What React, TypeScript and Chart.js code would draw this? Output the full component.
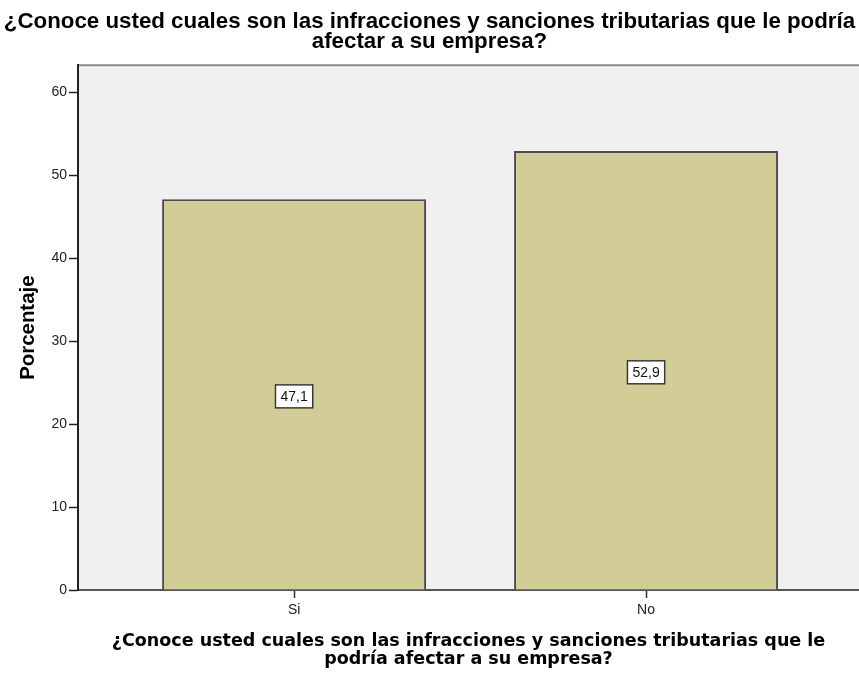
import React, { useEffect, useRef } from "react";
import { Chart, registerables } from "chart.js";

Chart.register(...registerables);

const titleLines = [
  "¿Conoce usted cuales son las infracciones y sanciones tributarias que le podría",
  "afectar a su empresa?",
];
const xTitleLines = [
  "¿Conoce usted cuales son las infracciones y sanciones tributarias que le",
  "podría afectar a su empresa?",
];
const yTitle = "Porcentaje";
const categories = ["Si", "No"];
const percentages = [47.1, 52.9];
const yTicks = [0, 10, 20, 30, 40, 50, 60];

const bgPlugin = {
  id: "plotBg",
  beforeDraw(chart: any) {
    const { ctx, chartArea } = chart;
    ctx.save();
    ctx.fillStyle = "#F0F0F0";
    ctx.fillRect(chartArea.left, chartArea.top, chartArea.right - chartArea.left, chartArea.bottom - chartArea.top);
    ctx.strokeStyle = "#8a8a8a";
    ctx.lineWidth = 2;
    ctx.beginPath();
    ctx.moveTo(chartArea.left, chartArea.top);
    ctx.lineTo(chartArea.right, chartArea.top);
    ctx.stroke();
    ctx.restore();
  },
};

const labelPlugin = {
  id: "valueLabels",
  afterDatasetsDraw(chart: any) {
    const { ctx } = chart;
    const meta = chart.getDatasetMeta(0);
    ctx.save();
    ctx.font = "14px 'Liberation Sans', Arial, sans-serif";
    ctx.textAlign = "center";
    ctx.textBaseline = "middle";
    meta.data.forEach((bar: any, i: number) => {
      const v = percentages[i];
      const txt = v.toFixed(1).replace(".", ",");
      const cx = bar.x;
      const cy = (bar.y + bar.base) / 2 + 2;
      const w = ctx.measureText(txt).width + 10;
      const h = 23;
      ctx.fillStyle = "#ffffff";
      ctx.fillRect(cx - w / 2, cy - h / 2, w, h);
      ctx.strokeStyle = "#3a3a3a";
      ctx.lineWidth = 1.5;
      ctx.strokeRect(cx - w / 2, cy - h / 2, w, h);
      ctx.fillStyle = "#111";
      ctx.fillText(txt, cx, cy + 1);
    });
    ctx.restore();
  },
};

export default function App() {
  const ref = useRef<HTMLCanvasElement | null>(null);
  useEffect(() => {
    if (!ref.current) return;
    const chart = new Chart(ref.current, {
      type: "bar",
      data: {
        datasets: [
          {
            data: categories.map((c, i) => ({ x: i + 1, y: percentages[i] })),
            backgroundColor: "#D2CD96",
            borderColor: "#4a4a4a",
            borderWidth: 2,
            categoryPercentage: 1,
            barPercentage: 0.75,
          },
        ],
      },
      options: {
        responsive: false,
        animation: false,
        layout: { padding: 0 },
        plugins: {
          legend: { display: false },
          tooltip: { enabled: false },
          title: {
            display: true,
            text: titleLines,
            color: "#000",
            font: { family: "'Liberation Sans', Arial, sans-serif", size: 22.3, weight: "bold", lineHeight: 0.88 },
            padding: { top: 12, bottom: 14 },
          },
        },
        scales: {
          x: {
            type: "linear",
            offset: false,
            min: 0.386,
            max: 2.605,
            afterBuildTicks: (scale: any) => {
              scale.ticks = categories.map((c, i) => ({ value: i + 1 }));
            },
            afterFit: (scale: any) => {
              scale.height = 83;
            },
            ticks: {
              callback: (v: any) => categories[Number(v) - 1] ?? "",
              color: "#222",
              font: { family: "'Liberation Sans', Arial, sans-serif", size: 14 },
              padding: 4,
              maxRotation: 0,
            },
            grid: { offset: false, drawOnChartArea: false, tickLength: 8, tickColor: "#333", tickWidth: 1.5 },
            border: { display: true, color: "#555", width: 2 },
            title: {
              display: true,
              text: xTitleLines,
              color: "#000",
              font: { family: "'DejaVu Sans', sans-serif", size: 17.5, weight: "bold", lineHeight: 1.0 },
              padding: { top: 0, bottom: 5 },
            },
          },
          y: {
            min: 0,
            max: 63.25,
            afterBuildTicks: (scale: any) => {
              scale.ticks = yTicks.map((v) => ({ value: v }));
            },
            afterFit: (scale: any) => {
              scale.width = 78;
            },
            ticks: {
              color: "#222",
              font: { family: "'Liberation Sans', Arial, sans-serif", size: 14 },
              padding: 2,
            },
            grid: { drawOnChartArea: false, tickLength: 9, tickColor: "#222", tickWidth: 1.5 },
            border: { display: true, color: "#222", width: 2 },
            title: {
              display: true,
              text: yTitle,
              color: "#000",
              font: { family: "'Liberation Sans', Arial, sans-serif", size: 20.4, weight: "bold", lineHeight: 1.2 },
              padding: { top: 16, bottom: 0 },
            },
          },
        },
      } as any,
      plugins: [bgPlugin, labelPlugin],
    });
    return () => chart.destroy();
  }, []);
  return (
    <div style={{ position: "fixed", left: 0, top: 0, width: 859, height: 673, background: "#fff" }}>
      <canvas ref={ref} width={859} height={673} />
    </div>
  );
}
